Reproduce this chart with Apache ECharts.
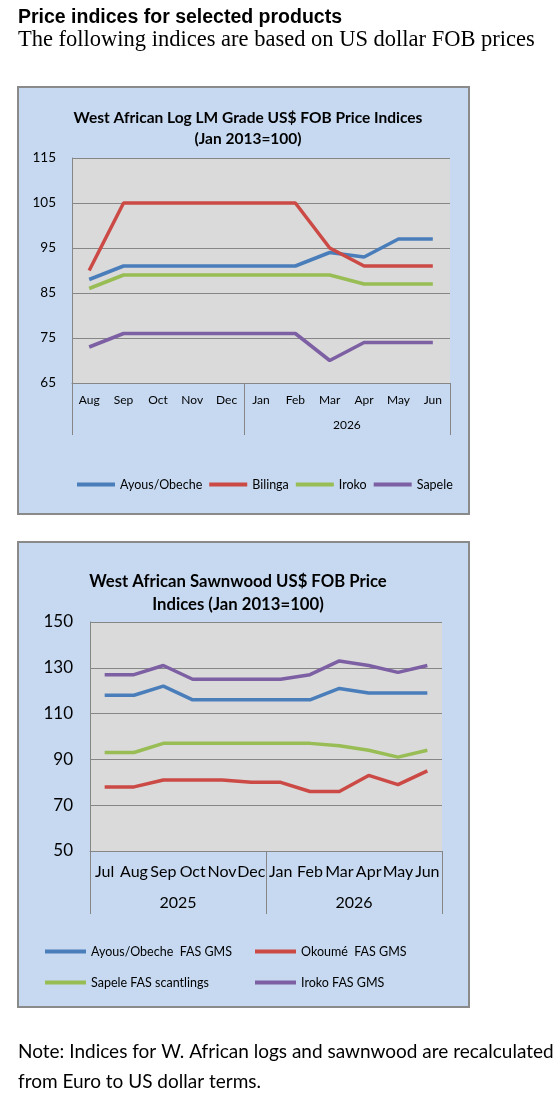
<!DOCTYPE html>
<html>
<head>
<meta charset="utf-8">
<script src="https://cdn.jsdelivr.net/npm/echarts@6/dist/echarts.min.js"></script>
<style>
  html, body { margin: 0; padding: 0; background: #fff; }
  #main { width: 560px; height: 1096px; }
</style>
</head>
<body>
<div id="main"></div>
<script>
// log chart data
var months1 = ['Aug', 'Sep', 'Oct', 'Nov', 'Dec', 'Jan', 'Feb', 'Mar', 'Apr', 'May', 'Jun'];
var yearLabels1 = ['', '2026'];
var yearSizes1 = [5, 6];
var ayous1 = [88, 91, 91, 91, 91, 91, 91, 94, 93, 97, 97];
var bilinga1 = [90, 105, 105, 105, 105, 105, 105, 95, 91, 91, 91];
var iroko1 = [86, 89, 89, 89, 89, 89, 89, 89, 87, 87, 87];
var sapele1 = [73, 76, 76, 76, 76, 76, 76, 70, 74, 74, 74];
var yRange1 = [65, 115, 10];

// sawnwood chart data
var months2 = ['Jul', 'Aug', 'Sep', 'Oct', 'Nov', 'Dec', 'Jan', 'Feb', 'Mar', 'Apr', 'May', 'Jun'];
var yearLabels2 = ['2025', '2026'];
var yearSizes2 = [6, 6];
var ayous2 = [118, 118, 122, 116, 116, 116, 116, 116, 121, 119, 119, 119];
var okoume2 = [78, 78, 81, 81, 81, 80, 80, 76, 76, 83, 79, 85];
var sapele2 = [93, 93, 97, 97, 97, 97, 97, 97, 96, 94, 91, 94];
var iroko2 = [127, 127, 131, 125, 125, 125, 125, 127, 133, 131, 128, 131];
var yRange2 = [50, 150, 20];

var BLUE = '#4a7ebb', RED = '#cc4a45', GREEN = '#98bd54', PURPLE = '#7d5fa3';
var AXIS = '#868686';
var FONT = 'Lato, "Open Sans", sans-serif';

function groups(sizes) {
    var edges = [0], centers = [], acc = 0;
    sizes.forEach(function (s) {
        centers.push(acc + s / 2);
        acc += s;
        edges.push(acc);
    });
    return { edges: edges, centers: centers };
}
var g1 = groups(yearSizes1);
var g2 = groups(yearSizes2);

function monthAxis(grid, data, size, margin) {
    return {
        gridIndex: grid, type: 'category', data: data, boundaryGap: true,
        axisLine: { lineStyle: { color: AXIS, width: 1 } },
        axisTick: { show: false },
        axisLabel: { interval: 0, color: '#000', fontFamily: FONT, fontSize: size, margin: margin }
    };
}
function yearAxis(grid, count, g, labels, size, margin, tickLen) {
    return {
        gridIndex: grid, type: 'value', min: 0, max: count, position: 'bottom',
        axisLine: { show: false },
        splitLine: { show: false },
        axisTick: { show: true, customValues: g.edges, length: tickLen, lineStyle: { color: AXIS, width: 1 } },
        axisLabel: {
            customValues: g.centers, color: '#000', fontFamily: FONT, fontSize: size, margin: margin,
            formatter: function (v) {
                var i = g.centers.indexOf(v);
                return i >= 0 ? labels[i] : '';
            }
        }
    };
}
function valueAxis(grid, r, size, margin) {
    return {
        gridIndex: grid, type: 'value', min: r[0], max: r[1], interval: r[2],
        axisLine: { show: true, lineStyle: { color: AXIS } },
        axisTick: { show: false },
        splitLine: { lineStyle: { color: AXIS, width: 1 } },
        axisLabel: { color: '#000', fontFamily: FONT, fontSize: size, margin: margin }
    };
}
function line(name, data, color, axisIdx) {
    return {
        name: name, type: 'line', data: data, xAxisIndex: axisIdx, yAxisIndex: axisIdx / 2,
        symbol: 'none', lineStyle: { color: color, width: 3.5 }, itemStyle: { color: color }
    };
}
function legend2(name, left, top) {
    return {
        left: left, top: top, icon: 'rect', itemWidth: 41, itemHeight: 4,
        data: [name],
        textStyle: { fontFamily: FONT, fontSize: 12.5, color: '#000' }
    };
}

var myChart = echarts.init(document.getElementById('main'));
var option = {
    backgroundColor: '#fff',
    animation: false,
    graphic: [
        { type: 'rect', z: -10, shape: { x: 18, y: 87, width: 451, height: 427 },
          style: { fill: '#c6d9f1', stroke: '#8a8a8a', lineWidth: 2 } },
        { type: 'rect', z: -10, shape: { x: 18, y: 542, width: 451, height: 465 },
          style: { fill: '#c6d9f1', stroke: '#8a8a8a', lineWidth: 2 } },
        { type: 'text', left: 18, top: 8,
          style: { text: 'Price indices for selected products', font: 'bold 19.5px "Liberation Sans", Arial, sans-serif', fill: '#000' } },
        { type: 'text', left: 18, top: 29,
          style: { text: 'The following indices are based on US dollar FOB prices', font: '22.5px "Liberation Serif", "Times New Roman", serif', fill: '#000' } },
        { type: 'text', left: 18, top: 1037,
          style: { text: 'Note: Indices for W. African logs and sawnwood are recalculated\nfrom Euro to US dollar terms.',
                   font: '19px ' + FONT, lineHeight: 30, fill: '#000' } }
    ],
    title: [
        { text: 'West African Log LM Grade US$ FOB Price Indices\n(Jan 2013=100)', left: 243, top: 102, textAlign: 'center',
          textStyle: { fontFamily: FONT, fontSize: 15.5, fontWeight: 'bold', color: '#000', lineHeight: 21 } },
        { text: 'West African Sawnwood US$ FOB Price\nIndices (Jan 2013=100)', left: 233, top: 565, textAlign: 'center',
          textStyle: { fontFamily: FONT, fontSize: 16.7, fontWeight: 'bold', color: '#000', lineHeight: 23 } }
    ],
    legend: [
        { left: 72, top: 473, icon: 'rect', itemWidth: 38, itemHeight: 4, itemGap: 7,
          data: ['Ayous/Obeche', 'Bilinga', 'Iroko', 'Sapele'],
          textStyle: { fontFamily: FONT, fontSize: 12.5, color: '#000' } },
        legend2('Ayous/Obeche  FAS GMS', 40, 940),
        legend2('Okoumé  FAS GMS', 250, 940),
        legend2('Sapele FAS scantlings', 40, 971),
        legend2('Iroko FAS GMS', 250, 971)
    ],
    grid: [
        { left: 72, width: 378, top: 158, height: 225, show: true, backgroundColor: '#dadada', borderWidth: 0 },
        { left: 90, width: 352, top: 622, height: 229, show: true, backgroundColor: '#dadada', borderWidth: 0 }
    ],
    xAxis: [
        monthAxis(0, months1, 12, 11),
        yearAxis(0, months1.length, g1, yearLabels1, 12, 36, 52),
        monthAxis(1, months2, 16, 13),
        yearAxis(1, months2.length, g2, yearLabels2, 16, 44, 63)
    ],
    yAxis: [
        valueAxis(0, yRange1, 13.5, 16),
        valueAxis(1, yRange2, 17, 17)
    ],
    series: [
        line('Ayous/Obeche', ayous1, BLUE, 0),
        line('Bilinga', bilinga1, RED, 0),
        line('Iroko', iroko1, GREEN, 0),
        line('Sapele', sapele1, PURPLE, 0),
        line('Ayous/Obeche  FAS GMS', ayous2, BLUE, 2),
        line('Okoumé  FAS GMS', okoume2, RED, 2),
        line('Sapele FAS scantlings', sapele2, GREEN, 2),
        line('Iroko FAS GMS', iroko2, PURPLE, 2)
    ]
};
myChart.setOption(option);
</script>
</body>
</html>
